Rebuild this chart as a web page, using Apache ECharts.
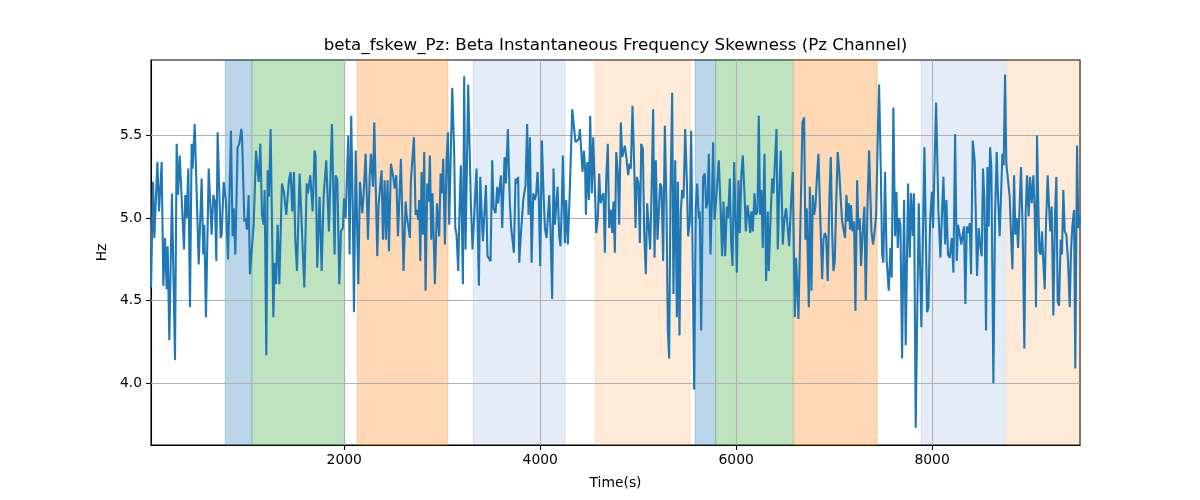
<!DOCTYPE html>
<html>
<head>
<meta charset="utf-8">
<script src="https://cdn.jsdelivr.net/npm/echarts@6/dist/echarts.min.js"></script>
<style>html,body{margin:0;padding:0;background:#fff}#chart{width:1200px;height:500px}</style>
</head>
<body>
<div id="chart"></div>
<script>
const titleText = 'beta_fskew_Pz: Beta Instantaneous Frequency Skewness (Pz Channel)';
const xName = 'Time(s)';
const yName = 'Hz';
const xTicks = [2000, 4000, 6000, 8000];
const yTicks = [4.0, 4.5, 5.0, 5.5];

const times = [
  27,48,61,92,109,136,153,170,187,197,214,241,272,289,303,320,364,377,391,408,425,442,452,473,486,514,544,561,571,588,616,646,663,680,694,707,738,748,769,792,813,843,860,871,888,911,928,949,
  956,980,993,1007,1024,1037,1075,1099,1116,1126,1143,1160,1177,1187,1204,1218,1231,1248,1276,1289,1303,1320,1337,1364,1384,1408,1435,1452,1469,1486,1500,1517,1544,1571,1592,1616,1629,1653,1677,1697,1707,1724,1748,1769,1789,1816,1843,1874,1901,
  1912,1929,1949,1966,1986,1997,2014,2041,2054,2071,2088,2099,2116,2143,2160,2184,2197,2218,2242,2259,2272,2282,2293,2306,2337,2350,2364,2381,2395,2412,2425,2442,2456,2476,2500,2514,2531,2548,2578,2605,2626,2636,2653,2670,2680,2694,2711,2728,2741,2755,2765,2776,2789,2803,2816,2830,2847,
  2861,2874,2888,2901,2925,2946,2969,2983,2997,3010,3027,3044,3058,3071,3102,3122,3133,3146,3163,3177,3190,3211,3224,3238,3252,3265,3292,3309,3327,3350,3374,3388,3401,3415,3446,3462,3480,3493,3510,3524,3544,3561,3571,3585,3599,3612,3636,3650,3670,3690,3704,3718,3731,3748,3762,3775,3786,
  3799,3813,3827,3837,3850,3867,3881,3895,3912,3929,3946,3959,3973,3986,4000,4017,4034,4048,4065,4075,4092,4105,4122,4136,4150,4160,4177,4194,4207,4221,4231,4241,4252,4265,4282,4299,4327,4344,4360,4377,4394,4405,4418,4432,4446,4459,4466,4480,4497,4510,4527,4541,4558,4571,4588,4602,4616,4633,4646,4660,4673,4690,4704,
  4721,4735,4748,4762,4776,4793,4806,4823,4837,4850,4864,4881,4898,4912,4925,4942,4959,4973,4986,5003,5017,5031,5048,5061,5078,5092,5105,5122,5136,5153,5167,5180,5197,5211,5224,5238,5255,5272,5289,5303,5316,5330,5347,5360,5378,5395,5405,5422,5435,5449,5463,5480,5497,5510,5527,5541,5554,5571,5588,5602,5619,5629,5643,5663,
  5680,5694,5707,5721,5738,5752,5765,5779,5793,5806,5823,5840,5857,5871,5888,5905,5918,5935,5949,5963,5980,5997,6007,6024,6037,6054,6068,6085,6099,6116,6129,6143,6156,6170,6187,6201,6218,6231,6245,6258,6272,6289,6306,6323,6333,6350,6367,6381,6395,6412,6425,6442,6456,6476,6493,6510,6524,6541,6561,6578,6592,
  6599,6612,6622,6636,6653,6677,6694,6707,6721,6731,6742,6752,6769,6782,6796,6809,6823,6840,6857,6878,6891,6905,6918,6935,6952,6966,6980,6993,7007,7020,7037,7054,7068,7082,7095,7112,7126,7139,7150,7163,7173,7187,7204,7218,7235,7248,7262,7275,7292,7309,7323,7340,7357,7367,7381,7398,7412,7429,7446,7459,7476,7490,7503,7520,
  7537,7558,7575,7588,7605,7622,7636,7650,7663,7677,7694,7714,7731,7755,7772,7786,7803,7816,7833,7864,7891,7922,7949,7963,7980,7997,8010,8024,8041,8065,8085,8102,8116,8133,8146,8163,8180,8201,8218,8235,8252,8265,8282,8299,8313,8326,8340,8354,8371,8384,8398,8415,8435,8459,
  8476,8490,8507,8520,8534,8551,8565,8578,8592,8605,8626,8643,8660,8673,8690,8704,8718,8731,8745,8758,8772,8792,8806,8820,8837,8850,8864,8878,8895,8908,8925,8942,8956,8969,8986,9000,9017,9034,9048,9061,9071,9085,9095,9109,9122,9139,9150,9163,9180,9194,9207,9221,9238,9255,9269,9282,9296,9313,9326,9340,9354,9371,9388,9405,9418,9432,9449,9462,9480,9493,9510
];

const values = [
  4.58,5.22,4.88,5.34,5.04,5.34,4.59,4.88,4.57,4.83,4.26,5.15,4.14,5.45,5.14,5.38,4.81,5.14,5.00,5.30,4.46,5.45,5.30,5.57,5.57,4.72,5.24,4.78,4.96,4.40,5.30,4.90,5.14,5.10,4.74,5.52,4.88,4.90,5.22,5.10,4.75,5.53,4.89,5.06,4.78,5.43,5.45,5.54,
  5.50,4.98,5.00,4.93,5.14,4.66,4.96,5.41,5.42,5.22,5.45,5.02,4.96,5.17,4.17,5.29,5.13,5.54,4.40,4.73,4.60,4.96,4.60,5.21,5.16,5.02,5.23,5.28,5.04,5.28,4.87,4.68,5.27,4.88,4.58,5.21,5.15,5.26,5.04,5.41,5.38,4.70,5.13,4.68,5.13,5.35,4.92,5.57,4.78,
  5.26,5.23,4.60,4.92,4.94,5.12,5.00,5.50,4.78,5.62,5.00,4.43,5.41,4.60,5.22,5.03,5.14,5.39,4.87,5.25,5.39,5.39,5.19,5.58,4.77,5.08,5.08,5.29,4.87,5.23,4.87,5.23,4.80,5.33,5.25,5.18,5.26,4.89,5.36,4.68,5.10,5.02,5.02,4.88,5.23,5.24,5.49,5.02,5.05,4.99,5.11,4.74,5.28,4.90,5.40,4.56,5.21,
  5.10,5.38,4.87,5.15,4.60,5.09,4.89,5.27,5.15,5.36,4.84,5.35,5.52,4.96,5.79,5.39,4.94,4.90,4.68,5.07,5.32,4.60,5.86,4.81,4.82,5.81,5.09,4.81,4.81,5.30,4.59,5.25,5.05,4.86,5.20,4.77,4.78,4.74,5.35,5.06,5.03,5.19,5.09,5.18,5.26,4.94,5.37,5.21,5.54,5.09,4.94,4.95,4.79,5.24,5.21,5.25,4.73,
  4.87,4.86,5.11,5.12,5.20,5.57,5.02,5.49,4.73,5.15,5.11,5.15,5.28,5.11,4.71,5.47,5.15,4.94,4.88,4.89,5.14,4.94,4.51,5.30,4.96,4.96,5.19,4.89,4.83,5.09,5.38,5.38,4.85,5.11,4.84,5.11,5.66,5.65,5.46,5.47,5.48,5.54,5.54,5.28,5.41,5.29,5.02,5.34,5.11,5.62,5.15,5.49,5.18,4.91,5.00,5.27,5.09,5.13,5.15,4.79,5.22,5.45,4.94,
  5.05,4.91,5.10,4.79,5.40,5.27,4.96,5.58,5.37,5.40,5.44,5.36,5.26,5.33,5.30,5.68,5.33,4.94,5.25,5.21,4.85,5.45,5.42,4.92,4.66,5.09,5.08,4.81,5.14,5.66,4.76,5.35,4.87,5.04,5.21,5.19,4.74,5.56,5.07,4.32,4.15,5.15,5.76,4.54,5.35,4.40,5.22,4.29,5.04,5.17,5.12,5.54,5.22,4.89,4.98,5.53,5.52,3.96,5.07,5.21,5.00,5.04,4.32,5.25,
  5.27,5.06,5.09,5.39,4.78,5.09,5.46,4.99,5.09,5.08,5.35,5.08,4.77,5.10,4.77,5.07,5.00,5.24,4.85,4.71,5.34,4.92,4.67,5.23,4.91,5.27,5.38,5.15,4.92,5.08,5.02,4.91,5.04,4.92,5.15,5.02,5.04,5.62,5.02,5.17,4.82,5.39,4.62,5.04,4.68,4.98,5.24,5.15,5.14,5.54,4.81,5.19,5.41,4.84,5.00,5.06,5.07,4.83,5.10,5.28,5.29,
  4.40,4.76,4.76,4.39,4.88,5.58,5.61,4.87,5.06,5.06,4.46,5.19,4.56,5.14,5.02,5.07,5.23,5.39,5.04,4.63,4.87,4.91,4.89,4.62,5.13,5.37,4.92,4.68,4.74,5.06,5.40,5.27,5.11,4.98,4.99,4.88,5.14,4.98,5.09,4.93,5.08,4.92,4.98,4.44,5.23,4.93,5.00,4.71,4.92,5.07,4.50,5.06,5.41,5.40,4.92,4.84,4.91,5.02,5.50,5.81,5.31,4.78,4.73,5.28,
  4.74,4.56,4.82,4.64,5.67,4.89,5.16,4.82,5.00,4.96,4.15,5.11,4.23,5.21,4.76,5.15,4.89,5.15,3.73,5.09,4.34,5.43,4.43,4.46,4.98,5.16,4.94,4.94,5.70,5.04,4.76,5.04,5.25,4.84,5.11,4.78,4.76,4.88,4.67,5.51,4.74,4.96,4.90,4.84,4.90,4.95,4.48,4.95,4.91,4.97,4.66,5.47,5.35,4.65,
  4.94,4.84,4.77,5.30,5.11,4.32,5.31,4.95,5.43,5.31,4.00,5.02,5.40,5.13,4.89,4.88,5.39,5.32,5.87,5.33,5.25,5.13,4.90,4.69,5.26,4.90,5.00,4.82,4.83,5.31,4.92,4.21,5.04,5.26,5.01,5.25,5.09,5.26,5.04,4.46,5.50,5.07,4.80,4.78,4.92,4.69,4.57,4.96,5.26,5.07,4.92,5.07,4.41,5.02,5.25,4.50,4.47,4.87,4.78,5.17,4.92,4.90,4.74,4.46,4.80,4.95,5.05,4.09,5.44,4.94,5.02
];

const spanStart = [786, 1060, 2133, 3316, 4561, 5582, 5792, 6590, 7888, 8762];
const spanEnd   = [1055, 2003, 3058, 4255, 5531, 5789, 6581, 7439, 8748, 9510];
const spanColor = [
  'rgba(31,119,180,0.3)', 'rgba(44,160,44,0.3)', 'rgba(255,127,14,0.3)', 'rgba(31,100,190,0.12)', 'rgba(255,127,14,0.16)',
  'rgba(31,119,180,0.3)', 'rgba(44,160,44,0.3)', 'rgba(255,127,14,0.3)', 'rgba(31,100,190,0.12)', 'rgba(255,127,14,0.16)'
];

const FONT = 'DejaVu Sans';
const n = Math.min(times.length, values.length);
const lineData = [];
for (let i = 0; i < n; i++) lineData.push([times[i], values[i]]);

const chart = echarts.init(document.getElementById('chart'), null, {renderer: 'canvas'});
chart.setOption({
  animation: false,
  backgroundColor: '#fff',
  textStyle: {fontFamily: FONT},
  graphic: [{
    type: 'text', x: 615.5, y: 46,
    style: {text: titleText, fontFamily: FONT, fontSize: 16.7, fill: '#000', align: 'center', verticalAlign: 'middle'}
  }],
  grid: {left: 151, right: 120, top: 60, bottom: 55, show: true, borderColor: '#000', borderWidth: 1.1, backgroundColor: 'transparent'},
  xAxis: {
    type: 'value', min: times[0], max: times[n - 1],
    name: xName, nameLocation: 'middle', nameGap: 31,
    nameTextStyle: {fontFamily: FONT, fontSize: 13.9, color: '#000'},
    axisLine: {show: true, lineStyle: {color: '#000', width: 1.1}},
    axisTick: {show: true, customValues: xTicks, length: 5, lineStyle: {color: '#000', width: 1.1}},
    axisLabel: {customValues: xTicks, color: '#000', fontFamily: FONT, fontSize: 13.9, margin: 8,
      formatter: v => String(Math.round(v))},
    splitLine: {show: false}
  },
  yAxis: {
    type: 'value', min: 3.626, max: 5.958,
    name: yName, nameLocation: 'middle', nameGap: 41, nameRotate: 90,
    nameTextStyle: {fontFamily: FONT, fontSize: 13.9, color: '#000'},
    axisLine: {show: true, lineStyle: {color: '#000', width: 1.1}},
    axisTick: {show: true, customValues: yTicks, length: 5, lineStyle: {color: '#000', width: 1.1}},
    axisLabel: {customValues: yTicks, color: '#000', fontFamily: FONT, fontSize: 13.9, margin: 9,
      formatter: v => Number(v).toFixed(1)},
    splitLine: {show: false}
  },
  series: [{
    type: 'line', data: lineData, symbol: 'none', showSymbol: false, z: 3,
    lineStyle: {color: '#1f77b4', width: 2.08}, itemStyle: {color: '#1f77b4'},
    emphasis: {disabled: true},
    markArea: {
      silent: true, z: 1,
      data: spanStart.map((s, i) => [
        {xAxis: s, itemStyle: {color: spanColor[i], borderColor: spanColor[i], borderWidth: 1}},
        {xAxis: spanEnd[i]}
      ])
    },
    markLine: {
      silent: true, z: 2, symbol: ['none', 'none'], label: {show: false},
      lineStyle: {color: '#b0b0b0', width: 1.1, type: 'solid'},
      emphasis: {disabled: true},
      data: xTicks.map(v => ({xAxis: v})).concat(yTicks.map(v => ({yAxis: v})))
    }
  }]
});
</script>
</body>
</html>
